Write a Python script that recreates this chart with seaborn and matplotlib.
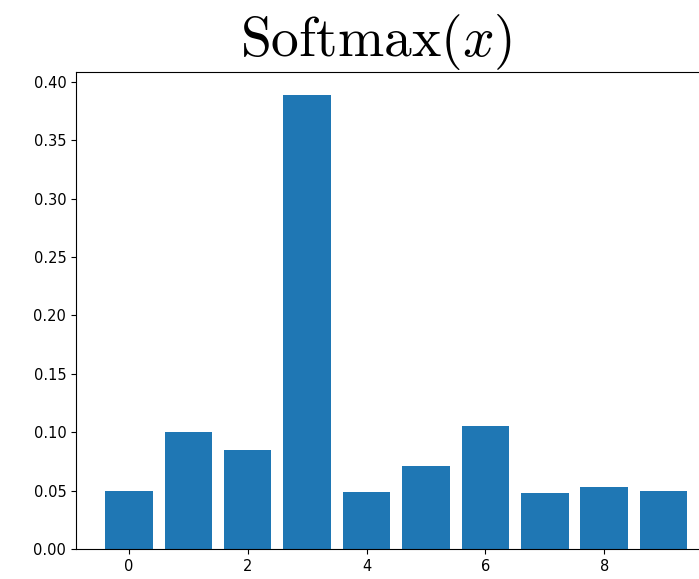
import matplotlib
matplotlib.use("Agg")
import matplotlib.pyplot as plt
import seaborn as sns
import numpy as np

# softmax output per class
classes = list(range(10))
probs = [0.050, 0.100, 0.085, 0.389, 0.049, 0.071, 0.105, 0.048, 0.053, 0.050]

plt.rcParams['mathtext.fontset'] = 'cm'

fig = plt.figure(figsize=(6.99, 5.79), dpi=100)
# axes runs past the right edge, like the cropped original
ax = fig.add_axes([76 / 699, 30 / 579, 640.5 / 699, 477 / 579])

sns.barplot(x=classes, y=probs, color='#1f77b4', saturation=1, width=0.8,
            linewidth=0, native_scale=True, ax=ax)

ax.set_xlim(-0.89, 9.89)
ax.set_ylim(0, max(probs) * 1.05)
ax.set_xticks([0, 2, 4, 6, 8])
ax.set_yticks(np.arange(0, 0.41, 0.05))
ax.set_yticklabels([f'{t:.2f}' for t in np.arange(0, 0.41, 0.05)])
ax.tick_params(labelsize=10.5)
ax.set_xlabel('')
ax.set_ylabel('')
ax.set_title(r'$\mathrm{Softmax}(x)$', fontsize=40, pad=4, x=0.469)

plt.savefig('out.png', dpi=100)
